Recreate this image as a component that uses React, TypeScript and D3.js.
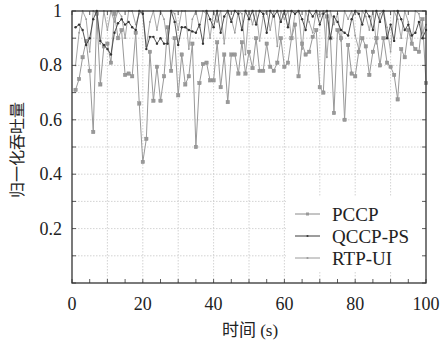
import React from "react";
import * as d3 from "d3";

const seriesNames = ["PCCP", "QCCP-PS", "RTP-UI"];

const pccp = [
  0.71, 0.75, 0.83, 0.89, 0.78, 0.555, 0.99, 0.73, 0.87, 0.88,
  0.81, 0.99, 0.9, 0.93, 0.765, 0.77, 0.76, 0.92, 0.66, 0.445,
  0.53, 0.85, 0.67, 0.795, 0.67, 0.76, 0.94, 0.78, 0.9, 0.69,
  0.84, 0.73, 0.76, 0.88, 0.5, 0.735, 0.805, 0.81, 0.745, 0.745,
  0.885, 0.72, 0.84, 0.665, 0.84, 0.84, 0.77, 0.885, 0.77, 0.85,
  0.79, 0.9, 0.78, 0.78, 0.88, 0.795, 0.78, 0.81, 0.9, 0.795,
  0.81, 0.9, 0.95, 0.76, 0.88, 0.84, 0.85, 0.905, 0.93, 0.72,
  0.7, 0.98, 0.9, 0.625, 0.93, 0.9, 0.6, 0.875, 0.77, 0.76,
  0.85, 0.9, 0.87, 0.765, 0.85, 0.9, 0.8, 0.9, 0.81, 0.795,
  0.765, 0.675, 0.86, 0.83, 0.93, 0.88, 0.86, 0.85, 0.97, 0.735,
];

const qccp = [
  0.94, 0.95, 0.93, 0.875, 0.9, 0.97, 1.0, 0.89, 0.875, 0.86,
  0.84, 0.92, 0.955, 0.97, 0.95, 0.96, 0.94, 0.93, 1.0, 0.99,
  0.86, 0.905, 0.905, 0.88, 0.9, 0.88, 0.88, 1.0, 0.96, 0.875,
  0.94, 0.94, 0.93, 0.925, 0.92, 0.95, 0.88, 1.0, 0.97, 0.94,
  1.0, 0.92, 0.98, 1.0, 0.96, 1.0, 0.99, 0.93, 1.0, 0.97,
  1.0, 0.95, 1.0, 0.99, 0.92, 1.0, 0.98, 1.0, 0.96, 1.0,
  0.94, 1.0, 0.99, 1.0, 0.97, 0.93, 1.0, 0.98, 1.0, 0.95,
  0.99, 1.0, 0.9, 0.98, 0.96, 0.93, 0.92, 0.91, 0.97, 1.0,
  0.99, 0.95, 1.0, 0.98, 0.93, 1.0, 0.96, 1.0, 0.9, 0.95,
  0.89, 1.0, 0.97, 0.93, 0.95, 0.91, 0.92, 0.96, 0.9, 0.93,
];

const rtpui = [
  0.8, 0.92, 1.0, 0.97, 0.85, 1.0, 0.99, 0.88, 1.0, 0.93,
  1.0, 0.96, 1.0, 0.98, 0.9, 1.0, 1.0, 0.95, 0.99, 1.0,
  0.87, 0.96, 1.0, 0.93, 1.0, 0.97, 0.88, 1.0, 0.99, 0.93,
  1.0, 1.0, 0.86, 0.97, 1.0, 0.94, 1.0, 0.99, 0.9, 1.0,
  0.96, 1.0, 0.88, 1.0, 0.97, 0.92, 1.0, 0.99, 0.84, 1.0,
  0.95, 1.0, 0.89, 0.98, 1.0, 0.93, 1.0, 0.87, 1.0, 0.97,
  1.0, 0.9, 0.99, 1.0, 0.86, 1.0, 0.96, 0.92, 1.0, 0.98,
  1.0, 0.83, 1.0, 0.95, 0.99, 0.89, 1.0, 0.97, 1.0, 0.91,
  0.86, 1.0, 0.98, 0.93, 1.0, 0.88, 0.99, 1.0, 0.94, 0.85,
  1.0, 0.97, 0.9, 1.0, 0.96, 0.88, 1.0, 0.99, 0.92, 0.95,
];

const xTickLabels = [0, 20, 40, 60, 80, 100];
const yTickLabels = [0.2, 0.4, 0.6, 0.8, 1];

const W = 441;
const H = 344;
const M = { left: 72, right: 426, top: 11, bottom: 283 };

export default function App() {
  const x = d3.scaleLinear().domain([0, 100]).range([M.left, M.right]);
  const y = d3.scaleLinear().domain([0, 1]).range([M.bottom, M.top]);
  const serif = "'Liberation Serif', 'Times New Roman', serif";
  const cjk = "'Noto Sans CJK SC', sans-serif";

  const mk = (vals: number[]) =>
    d3
      .line<number>()
      .x((_, i) => x(i + 1))
      .y((v) => y(v))(vals) as string;

  const grid10 = d3.range(10, 100, 10);
  const gridY = d3.range(1, 10).map((k) => k / 10);
  const xTicks = d3.range(0, 101, 5);
  const yTicks = d3.range(0, 11).map((k) => k / 10);

  const legendRows = [
    { name: seriesNames[0], color: "#8a8a8a", marker: "sq" },
    { name: seriesNames[1], color: "#3a3a3a", marker: "dot" },
    { name: seriesNames[2], color: "#9a9a9a", marker: "dot" },
  ];

  return (
    <svg width={W} height={H} style={{ position: "absolute", left: 0, top: 0, background: "#fff" }}>
      <rect x={0} y={0} width={W} height={H} fill="#fff" />
      {/* grid */}
      {grid10.map((g) => (
        <line key={"gx" + g} x1={x(g)} x2={x(g)} y1={M.top} y2={M.bottom} stroke="#c8c8c8" strokeWidth={0.8} strokeDasharray="1.5,1.5" />
      ))}
      {gridY.map((g) => (
        <line key={"gy" + g} x1={M.left} x2={M.right} y1={y(g)} y2={y(g)} stroke="#c8c8c8" strokeWidth={0.8} strokeDasharray="1.5,1.5" />
      ))}

      {/* series */}
      <path d={mk(rtpui)} fill="none" stroke="#a8a8a8" strokeWidth={1} />
      {rtpui.map((v, i) => (
        <circle key={"r" + i} cx={x(i + 1)} cy={y(v)} r={0.9} fill="#999" />
      ))}
      <path d={mk(pccp)} fill="none" stroke="#999" strokeWidth={1} />
      {pccp.map((v, i) => (
        <rect key={"p" + i} x={x(i + 1) - 1.7} y={y(v) - 1.7} width={3.4} height={3.4} fill="#999" stroke="#888" strokeWidth={0.4} />
      ))}
      <path d={mk(qccp)} fill="none" stroke="#444" strokeWidth={0.9} />
      {qccp.map((v, i) => (
        <circle key={"q" + i} cx={x(i + 1)} cy={y(v)} r={1.2} fill="#333" />
      ))}

      {/* legend */}
      <rect x={286} y={196} width={138} height={76} fill="#fff" />
      {legendRows.map((r, i) => {
        const cy = 214 + i * 22;
        return (
          <g key={r.name}>
            <line x1={295} x2={320} y1={cy} y2={cy} stroke={r.color} strokeWidth={1} />
            {r.marker === "sq" ? (
              <rect x={306} y={cy - 1.5} width={3} height={3} fill="#999" />
            ) : (
              <circle cx={307.5} cy={cy} r={1.1} fill={r.color} />
            )}
            <text x={332} y={cy + 6.5} fontFamily={serif} fontSize={19} fill="#222">
              {r.name}
            </text>
          </g>
        );
      })}

      {/* ticks */}
      {xTicks.map((t) => (
        <g key={"xt" + t}>
          <line x1={x(t)} x2={x(t)} y1={M.bottom} y2={M.bottom - 4} stroke="#333" strokeWidth={0.8} />
          <line x1={x(t)} x2={x(t)} y1={M.top} y2={M.top + 4} stroke="#333" strokeWidth={0.8} />
        </g>
      ))}
      {yTicks.map((t) => (
        <g key={"yt" + t}>
          <line x1={M.left} x2={M.left + 4} y1={y(t)} y2={y(t)} stroke="#333" strokeWidth={0.8} />
          <line x1={M.right} x2={M.right - 4} y1={y(t)} y2={y(t)} stroke="#333" strokeWidth={0.8} />
        </g>
      ))}

      {/* frame */}
      <rect x={M.left} y={M.top} width={M.right - M.left} height={M.bottom - M.top} fill="none" stroke="#333" strokeWidth={1.3} />

      {/* tick labels */}
      {xTickLabels.map((t) => (
        <text key={"xl" + t} x={x(t)} y={310} textAnchor="middle" fontFamily={serif} fontSize={18} fill="#222">
          {t}
        </text>
      ))}
      {yTickLabels.map((t) => (
        <text key={"yl" + t} x={62} y={y(t) + 6} textAnchor="end" fontFamily={serif} fontSize={18} fill="#222">
          {t}
        </text>
      ))}

      {/* axis titles */}
      <text x={250} y={336} textAnchor="middle" fontSize={17} fill="#222">
        <tspan fontFamily={cjk}>时间</tspan>
        <tspan fontFamily={serif}> (s)</tspan>
      </text>
      <text transform={`translate(23,150) rotate(-90)`} textAnchor="middle" fontFamily={cjk} fontSize={16} fill="#222">
        归一化吞吐量
      </text>
    </svg>
  );
}
